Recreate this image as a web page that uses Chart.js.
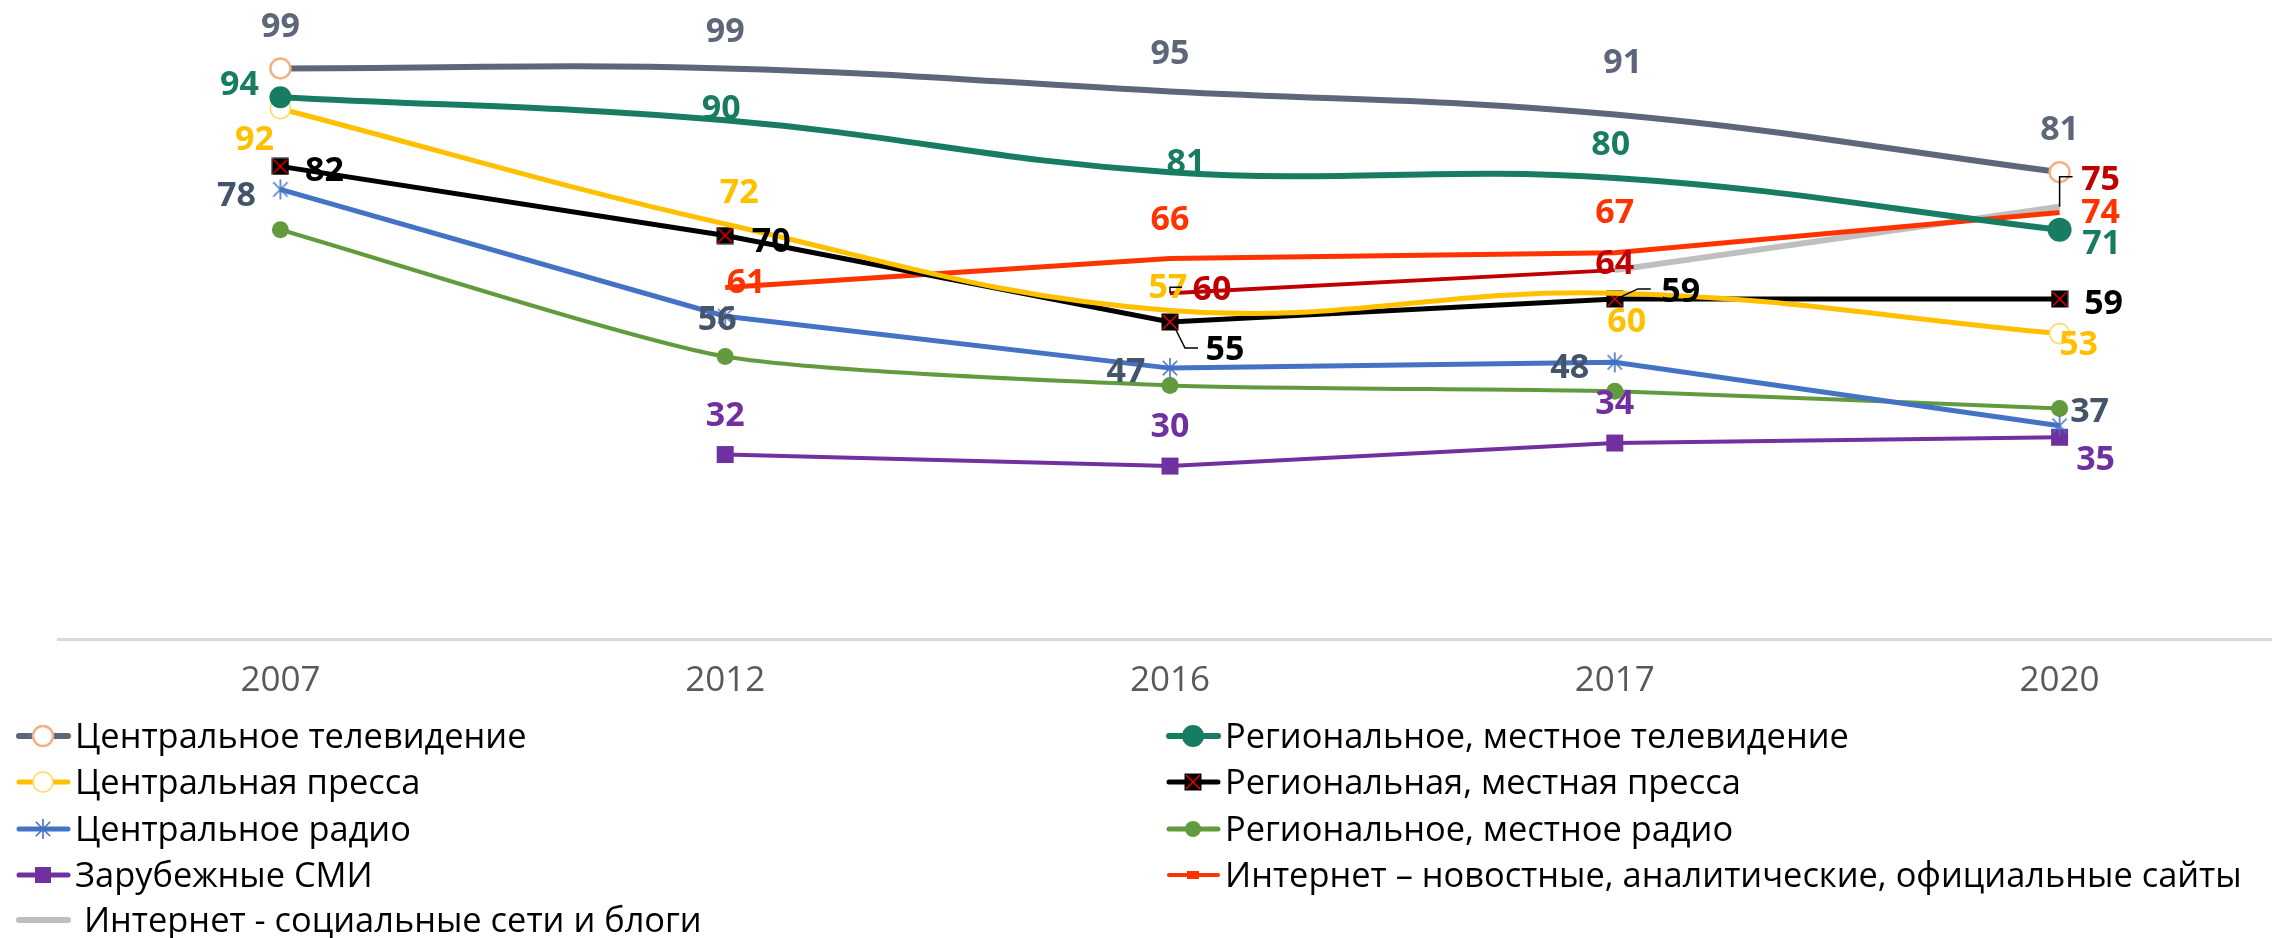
<!DOCTYPE html>
<html>
<head>
<meta charset="utf-8">
<script src="https://cdn.jsdelivr.net/npm/chart.js@4/dist/chart.umd.min.js"></script>
<style>
  html, body { margin: 0; padding: 0; background: #fff; overflow: hidden; }
  #wrap { width: 2272px; height: 938px; overflow: hidden; }
  canvas { display: block; }
</style>
</head>
<body>
<div id="wrap"><canvas id="chart" width="2282" height="938"></canvas></div>
<script>
// years on the x axis
const years = ["2007", "2012", "2016", "2017", "2020"];

// series values, %
const centralTv = [99, 99, 95, 91, 81];
const regionalTv = [94, 90, 81, 80, 71];
const centralPress = [92, 72, 57, 60, 53];
const regionalPress = [82, 70, 55, 59, 59];
const centralRadio = [78, 56, 47, 48, 37];
const regionalRadio = [71, 49, 44, 43, 40];
const foreignMedia = [null, 32, 30, 34, 35];
const internetNews = [null, 61, 66, 67, 74];
const internetSocial = [null, null, 60, 64, 75];

const FONT = "'Open Sans', 'Liberation Sans', sans-serif";

// small canvases used as point markers
function markerCanvas(size, draw) {
    const c = document.createElement("canvas");
    c.width = size;
    c.height = size;
    draw(c.getContext("2d"), size);
    return c;
}
const boxX = markerCanvas(18, (g, s) => {
    g.fillStyle = "#000";
    g.fillRect(0.5, 0.5, s - 1, s - 1);
    g.strokeStyle = "#FF0000";
    g.lineWidth = 1.4;
    g.beginPath();
    g.moveTo(2, 2); g.lineTo(s - 2, s - 2);
    g.moveTo(s - 2, 2); g.lineTo(2, s - 2);
    g.stroke();
});
const asterisk = markerCanvas(22, (g, s) => {
    const c = s / 2, r = s / 2 - 1, d = r * 0.72;
    g.strokeStyle = "#4472C4";
    g.lineWidth = 1.6;
    g.beginPath();
    g.moveTo(c, c - r); g.lineTo(c, c + r);
    g.moveTo(c - d, c - d); g.lineTo(c + d, c + d);
    g.moveTo(c + d, c - d); g.lineTo(c - d, c + d);
    g.stroke();
});

const datasets = [
    {
        label: "Центральное телевидение",
        data: centralTv,
        borderColor: "#5E6779", borderWidth: 6, tension: 0.4,
        pointStyle: "circle", pointRadius: [10, 0, 0, 0, 10],
        pointBackgroundColor: "#fff", pointBorderColor: "#F4B183", pointBorderWidth: 2.5,
        legendRadius: 10, legendWidth: 6,
        valueLabels: { color: "#5E6779", offsets: [[0, -44], [0, -39], [0, -40], [8, -54], [0, -44]] },
    },
    {
        label: "Региональное, местное телевидение",
        data: regionalTv,
        borderColor: "#187C62", borderWidth: 6, tension: 0.4,
        pointStyle: "circle", pointRadius: [11, 0, 0, 0, 12],
        pointBackgroundColor: "#187C62", pointBorderColor: "#187C62", pointBorderWidth: 0,
        legendRadius: 11, legendWidth: 6,
        valueLabels: { color: "#187C62", offsets: [[-41, -14], [-4, -14], [16, -11], [-4, -35], [42, 12]] },
    },
    {
        label: "Центральная пресса",
        data: centralPress,
        borderColor: "#FFC000", borderWidth: 5, tension: 0.4,
        pointStyle: "circle", pointRadius: [10, 0, 0, 0, 10],
        pointBackgroundColor: "#fff", pointBorderColor: "#FFD966", pointBorderWidth: 1.5,
        legendRadius: 10, legendWidth: 5,
        valueLabels: { color: "#FFC000", offsets: [[-26, 29], [14, -33], [-2, -25], [12, 27], [19, 9]] },
    },
    {
        label: "Региональная, местная пресса",
        data: regionalPress,
        borderColor: "#000000", borderWidth: 5, tension: 0,
        pointStyle: boxX, pointRadius: 9,
        legendWidth: 5,
        valueLabels: {
            color: "#000000",
            offsets: [[44, 2], [46, 4], [55, 26], [66, -9], [44, 3]],
            leaders: { 2: [[6, 8], [15, 26], [28, 26]], 3: [[6, -2], [23, -10], [36, -10]] },
        },
    },
    {
        label: "Центральное радио",
        data: centralRadio,
        borderColor: "#4472C4", borderWidth: 5, tension: 0,
        pointStyle: asterisk, pointRadius: 10,
        legendWidth: 5,
        valueLabels: { color: "#44546A", offsets: [[-44, 4], [-8, 2], [-44, 2], [-45, 3], [30, -16]] },
    },
    {
        label: "Региональное, местное радио",
        data: regionalRadio,
        borderColor: "#629B3E", borderWidth: 4, tension: 0.2,
        pointStyle: "circle", pointRadius: 8.5,
        pointBackgroundColor: "#629B3E", pointBorderColor: "#629B3E", pointBorderWidth: 0,
        legendRadius: 8, legendWidth: 5,
    },
    {
        label: "Зарубежные СМИ",
        data: foreignMedia,
        borderColor: "#7030A0", borderWidth: 4, tension: 0,
        pointStyle: "rect", pointRadius: 12,
        pointBackgroundColor: "#7030A0", pointBorderColor: "#7030A0", pointBorderWidth: 0,
        legendRadius: 8, legendWidth: 5,
        valueLabels: { color: "#7030A0", offsets: [null, [0, -41], [0, -41], [0, -41], [36, 20]] },
    },
    {
        label: "Интернет – новостные, аналитические, официальные сайты",
        data: internetNews,
        borderColor: "#FF3300", borderWidth: 5, tension: 0,
        pointRadius: 0,
        legendWidth: 4, legendDash: true,
        valueLabels: { color: "#FF3300", offsets: [null, [21, -7], [0, -41], [0, -42], [41, -2]] },
    },
    {
        label: " Интернет - социальные сети и блоги",
        data: internetSocial,
        borderColor: "#BFBFBF", borderWidth: 6, tension: 0,
        pointRadius: 0,
        segment: {
            borderColor: (c) => (c.p0DataIndex === 2 ? "#C00000" : undefined),
            borderWidth: (c) => (c.p0DataIndex === 2 ? 4 : undefined),
        },
        legendWidth: 6,
        valueLabels: {
            color: "#C00000",
            offsets: [null, null, [42, -5], [0, -8], [41, -29]],
            leaders: { 2: [[0, 0], [0, -6], [12, -6]], 4: [[0, 0], [0, -30], [13, -30]] },
        },
    },
];

// numbers next to the points
const valueLabelPlugin = {
    id: "valueLabels",
    afterDatasetsDraw(chart) {
        const ctx = chart.ctx;
        const size = 34;
        ctx.save();
        ctx.font = `bold ${size}px ${FONT}`;
        ctx.textAlign = "center";
        ctx.textBaseline = "alphabetic";
        chart.data.datasets.forEach((ds, i) => {
            const lbl = ds.valueLabels;
            if (!lbl) return;
            chart.getDatasetMeta(i).data.forEach((pt, j) => {
                const off = lbl.offsets[j];
                if (!off || ds.data[j] == null) return;
                const lead = lbl.leaders && lbl.leaders[j];
                if (lead) {
                    ctx.strokeStyle = "#000";
                    ctx.lineWidth = 1.5;
                    ctx.beginPath();
                    lead.forEach(([dx, dy], k) => {
                        if (k === 0) ctx.moveTo(pt.x + dx, pt.y + dy);
                        else ctx.lineTo(pt.x + dx, pt.y + dy);
                    });
                    ctx.stroke();
                }
                ctx.fillStyle = lbl.color;
                ctx.fillText(String(ds.data[j]), pt.x + off[0], pt.y + off[1] + size * 0.36);
            });
        });
        ctx.restore();
    },
};

// two-column legend under the axis
const legendPlugin = {
    id: "twoColLegend",
    afterDraw(chart) {
        const ctx = chart.ctx;
        const colX = [16, 1166];
        const rowY = [736, 782, 829, 875, 920];
        const size = 34.4;
        ctx.save();
        ctx.font = `${size}px ${FONT}`;
        ctx.textBaseline = "alphabetic";
        ctx.textAlign = "left";
        chart.data.datasets.forEach((ds, i) => {
            const x = colX[i % 2];
            const y = rowY[Math.floor(i / 2)];
            ctx.strokeStyle = ds.borderColor;
            ctx.lineWidth = ds.legendWidth;
            ctx.lineCap = "round";
            ctx.beginPath();
            ctx.moveTo(x + 3, y);
            ctx.lineTo(x + 52, y);
            ctx.stroke();
            const cx = x + 27;
            const st = ds.pointStyle;
            if (st instanceof HTMLCanvasElement) {
                ctx.drawImage(st, cx - st.width / 2, y - st.height / 2);
            } else if (ds.legendRadius) {
                const r = ds.legendRadius;
                ctx.beginPath();
                if (st === "rect") ctx.rect(cx - r, y - r, 2 * r, 2 * r);
                else ctx.arc(cx, y, r, 0, Math.PI * 2);
                ctx.fillStyle = ds.pointBackgroundColor;
                ctx.fill();
                if (ds.pointBorderWidth) {
                    ctx.lineWidth = ds.pointBorderWidth;
                    ctx.strokeStyle = ds.pointBorderColor;
                    ctx.stroke();
                }
            } else if (ds.legendDash) {
                ctx.fillStyle = ds.borderColor;
                ctx.fillRect(cx - 6, y - 4, 12, 8);
            }
            ctx.fillStyle = "#000";
            ctx.fillText(ds.label, x + 59, y + size * 0.36);
        });
        ctx.restore();
    },
};

new Chart(document.getElementById("chart").getContext("2d"), {
    type: "line",
    data: { labels: years, datasets: datasets },
    options: {
        responsive: false,
        animation: false,
        layout: { autoPadding: false, padding: { top: 5, left: 58, right: 0, bottom: 0 } },
        plugins: { legend: { display: false }, tooltip: { enabled: false } },
        scales: {
            x: {
                offset: true,
                grid: { display: false, drawTicks: false },
                border: { display: true, color: "#D9D9D9", width: 3 },
                ticks: { color: "#595959", font: { family: FONT, size: 35 }, padding: 21 },
                afterFit: (scale) => { scale.height = 299; },
            },
            y: { display: false, min: 0, max: 110 },
        },
    },
    plugins: [valueLabelPlugin, legendPlugin],
});
</script>
</body>
</html>
